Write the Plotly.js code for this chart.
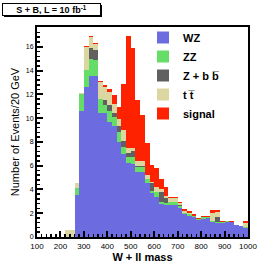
<!DOCTYPE html>
<html>
<head>
<meta charset="utf-8">
<script src="https://cdn.plot.ly/plotly-3.0.1.min.js"></script>
<style>html,body{margin:0;padding:0;background:#fff;}#chart{width:263px;height:263px;}</style>
</head>
<body>
<div id="chart"></div>
<script>
// bin centres (GeV), 20 GeV bins from 100 to 1000
var massBins = [110,130,150,170,190,210,230,250,270,290,310,330,350,370,390,410,430,450,470,490,510,530,550,570,590,610,630,650,670,690,710,730,750,770,790,810,830,850,870,890,910,930,950,970,990];
var wzEvents = [0,0,0,0,0,0,0,0,3.5,10.6,12.6,13.5,13.5,10.4,10.4,9.7,9.3,8.0,7.0,6.2,6.1,5.5,5.5,4.5,3.7,3.4,2.8,2.7,2.7,2.7,2.45,1.9,1.8,1.7,1.43,1.55,1.57,1.3,1.2,1.15,1.3,1.25,1.0,0.9,0.75];
var zzEvents = [0,0,0,0,0,0,0,0,0.6,1.4,1.45,1.45,1.35,1.2,0.7,0.9,0.8,0.8,0.6,0.5,0.6,0.4,0.4,0.4,0.2,0.4,0.15,0.15,0.28,0.25,0.15,0.1,0.1,0.05,0.05,0.1,0.1,0.05,0.1,0.1,0.03,0.03,0,0,0.1];
var zbbEvents = [0,0,0,0,0,0,0,0,0,0,0,0.95,0.85,0,0.4,0.5,0.3,0.5,0.5,0.4,0.5,0.1,0.1,0,0.6,0,0.8,0.4,0,0,0.1,0,0,0,0,0,0,0,0.35,0,0,0,0,0,0];
var ttEvents = [0,0,0,0,0,0,0.6,0.6,0.4,0.1,1.95,0.9,0.5,1.4,1.1,1.1,0.8,0.6,0.9,0.4,0.3,0.4,0.4,0.3,0.1,0.4,0.3,0.2,0.28,0.3,0.15,0.15,0.1,0,0,0.05,0,0.7,0.45,0,0,0,0,0,0.35];
var signalEvents = [0,0,0,0,0,0,0,0,0,0,0.1,0.1,0.1,0.1,0.15,0.25,0.7,1.0,3.9,9.4,8.4,5.1,3.9,2.7,1.45,1.6,0.85,0.75,0.14,0.15,0.12,0.18,0.2,0.15,0.09,0.1,0.13,0.22,0.17,0.1,0.02,0.05,0.05,0.05,0.15];
var seriesNames = ["WZ", "ZZ", "Z + b b\u0305", "t t\u0305", "signal"];
var seriesColors = ["#6c6ce0", "#66dd66", "#606060", "#dcd6a0", "#ff2200"];
var xTickVals = [100,200,300,400,500,600,700,800,900,1000];

var allSeries = [wzEvents, zzEvents, zbbEvents, ttEvents, signalEvents];
var traces = allSeries.map(function(vals, i){
  return {
    type: 'bar', x: massBins, y: vals, width: 20, name: seriesNames[i],
    marker: {color: seriesColors[i], line: {width: 0}},
    hoverinfo: 'skip'
  };
});

var W = 263, H = 263, L = 37, R = 15, T = 27, B = 26;
var pw = W - L - R, ph = H - T - B;
function px2x(p){ return (p - L) / pw; }
function py2y(p){ return 1 - (p - T) / ph; }

var fontFam = 'Liberation Sans, Arial, sans-serif';
var layout = {
  width: W, height: H,
  margin: {l: L, r: R, t: T, b: B, pad: 0},
  paper_bgcolor: '#fff', plot_bgcolor: '#fff',
  barmode: 'stack', bargap: 0,
  showlegend: true,
  font: {family: fontFam, color: '#000'},
  xaxis: {
    range: [100, 1000], tickmode: 'array', tickvals: xTickVals,
    ticks: 'inside', ticklen: 6, tickwidth: 2, tickcolor: '#000',
    minor: {dtick: 20, tick0: 100, ticks: 'inside', ticklen: 3, tickwidth: 1.5, tickcolor: '#000', showgrid: false},
    showline: true, linecolor: '#000', linewidth: 2, mirror: true,
    showgrid: false, zeroline: false, automargin: false,
    tickfont: {size: 8, family: fontFam},
    title: {text: 'W + ll mass', font: {size: 11, family: fontFam, weight: 'bold'}, standoff: 2}
  },
  yaxis: {
    range: [0, 17.66], tickmode: 'linear', tick0: 0, dtick: 2,
    ticks: 'inside', ticklen: 6, tickwidth: 2, tickcolor: '#000',
    minor: {dtick: 0.4, ticks: 'inside', ticklen: 3, tickwidth: 1.5, tickcolor: '#000', showgrid: false},
    showline: true, linecolor: '#000', linewidth: 2, mirror: true,
    showgrid: false, zeroline: false, automargin: false,
    tickfont: {size: 7, family: fontFam},
    title: {text: 'Number of Events/20 GeV', font: {size: 11, family: fontFam}, standoff: 4}
  },
  legend: {
    x: px2x(143), y: py2y(23), xanchor: 'left', yanchor: 'top',
    bgcolor: 'rgba(0,0,0,0)', borderwidth: 0, traceorder: 'normal',
    tracegroupgap: 0, itemwidth: 30,
    font: {size: 11, family: fontFam, weight: 'bold'}
  },
  shapes: [{
    type: 'rect', xref: 'paper', yref: 'paper', layer: 'above',
    x0: px2x(4), x1: px2x(102), y0: py2y(17), y1: py2y(5),
    fillcolor: '#000', line: {width: 0}
  }],
  annotations: [{
    xref: 'paper', yref: 'paper', x: px2x(51), y: py2y(9.3),
    xanchor: 'center', yanchor: 'middle', showarrow: false,
    text: 'S + B, L = 10 fb<sup>-1</sup>',
    font: {size: 9, family: fontFam, weight: 'bold', color: '#000'},
    bgcolor: '#fff', bordercolor: '#000', borderwidth: 1, borderpad: 1,
    width: 95, height: 9
  }]
};

Plotly.newPlot('chart', traces, layout, {staticPlot: true, displayModeBar: false});
</script>
</body>
</html>
